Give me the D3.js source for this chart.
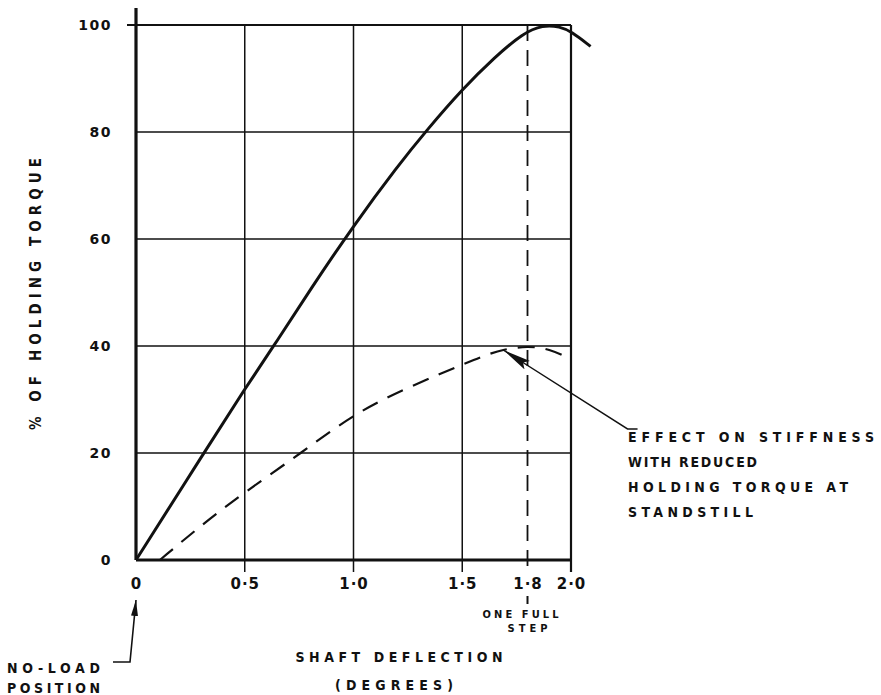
<!DOCTYPE html>
<html>
<head>
<meta charset="utf-8">
<script src="https://cdn.jsdelivr.net/npm/d3@7"></script>
<style>
body { margin: 0; background: #fff; }
text { font-family: "DejaVu Sans Condensed", "DejaVu Sans", sans-serif; font-weight: bold; fill: #111; }
</style>
</head>
<body>
<div id="chart"></div>
<script>
// axis ticks
const xTicks = [0, 0.5, 1.0, 1.5, 1.8, 2.0];
const xTickLabels = ["0", "0·5", "1·0", "1·5", "1·8", "2·0"];
const yTicks = [0, 20, 40, 60, 80, 100];
const gridX = [0.5, 1.0, 1.5, 2.0];
const gridY = [20, 40, 60, 80, 100];

// full holding torque (solid)
const fullDeflection = [0, 0.32, 0.5, 0.65, 0.8, 1.0, 1.2, 1.34, 1.5, 1.65, 1.78, 1.87, 1.95, 2.0, 2.09];
const fullTorque     = [0, 20.5, 32, 41, 50.5, 62.5, 73.5, 80.5, 88, 94, 98.5, 100, 99.7, 98.8, 96];

// reduced holding torque at standstill (dashed)
const reducedDeflection = [0.11, 0.3, 0.5, 0.76, 1.0, 1.25, 1.5, 1.6, 1.69, 1.8, 1.9, 2.0];
const reducedTorque     = [0, 6.5, 12.7, 20, 27.3, 32.3, 36.5, 38.2, 39.4, 40, 39.5, 37.5];

const stepAngle = 1.8;
const noteLines = ["EFFECT ON STIFFNESS", "WITH REDUCED", "HOLDING TORQUE AT", "STANDSTILL"];
const noteWidths = [246, 129, 220, 125];

const W = 881, H = 695;
const svg = d3.select("#chart").append("svg").attr("width", W).attr("height", H);

const x = d3.scaleLinear().domain([0, 2]).range([136, 571]);
const y = d3.scaleLinear().domain([0, 100]).range([560, 25]);

const defs = svg.append("defs");
defs.append("marker").attr("id", "bigHead")
    .attr("markerUnits", "userSpaceOnUse")
    .attr("markerWidth", 30).attr("markerHeight", 12)
    .attr("refX", 28).attr("refY", 5).attr("orient", "auto")
    .append("path").attr("d", "M0,0 L28,5 L0,10 L5,5 Z").attr("fill", "#111");
defs.append("marker").attr("id", "smallHead")
    .attr("markerUnits", "userSpaceOnUse")
    .attr("markerWidth", 18).attr("markerHeight", 8)
    .attr("refX", 16).attr("refY", 3.5).attr("orient", "auto")
    .append("path").attr("d", "M0,0 L16,3.5 L0,7 Z").attr("fill", "#111");

// grid lines
svg.selectAll(".gy").data(gridY).enter().append("line")
    .attr("x1", d => d === 100 ? x(0) - 9 : x(0)).attr("x2", x(2))
    .attr("y1", d => y(d)).attr("y2", d => y(d))
    .attr("stroke", "#111").attr("stroke-width", d => d === 100 ? 2.2 : 1.5);

svg.selectAll(".gx").data(gridX).enter().append("line")
    .attr("x1", d => x(d)).attr("x2", d => x(d))
    .attr("y1", y(100)).attr("y2", y(0) + 12)
    .attr("stroke", "#111").attr("stroke-width", d => d === 2 ? 2.2 : 1.5);

// axes
svg.append("line").attr("x1", x(0)).attr("x2", x(0)).attr("y1", 8).attr("y2", y(0))
    .attr("stroke", "#111").attr("stroke-width", 3.2);
svg.append("line").attr("x1", x(0)).attr("x2", x(2)).attr("y1", y(0)).attr("y2", y(0))
    .attr("stroke", "#111").attr("stroke-width", 3.2);

// one full step line
svg.append("line").attr("x1", x(stepAngle)).attr("x2", x(stepAngle))
    .attr("y1", y(100)).attr("y2", y(0) + 10)
    .attr("stroke", "#111").attr("stroke-width", 1.8).attr("stroke-dasharray", "16,9");

// tick labels
const xAxis = d3.axisBottom(x).tickValues(xTicks).tickSize(0)
    .tickFormat((d, i) => xTickLabels[i]);
const gx = svg.append("g").attr("transform", `translate(0,${y(0) + 15})`).call(xAxis);
gx.select(".domain").remove();
gx.selectAll("text").attr("dy", "0.71em").style("font-size", "15px").style("font-weight", "bold")
    .style("font-family", "DejaVu Sans").style("letter-spacing", "1px").attr("fill", "#111");

const yAxis = d3.axisLeft(y).tickValues(yTicks).tickSize(0).tickFormat(d3.format("d"));
const gyAx = svg.append("g").attr("transform", `translate(${x(0) - 21},0)`).call(yAxis);
gyAx.select(".domain").remove();
gyAx.selectAll("text").style("font-size", "14px").style("font-weight", "bold")
    .style("letter-spacing", "1.5px").style("font-family", "DejaVu Sans").attr("fill", "#111");

// curves
const line = d3.line().x(d => x(d[0])).y(d => y(d[1])).curve(d3.curveBasis);
svg.append("path")
    .datum(fullDeflection.map((d, i) => [d, fullTorque[i]]))
    .attr("d", line).attr("fill", "none").attr("stroke", "#111").attr("stroke-width", 3);
svg.append("path")
    .datum(reducedDeflection.map((d, i) => [d, reducedTorque[i]]))
    .attr("d", line).attr("fill", "none").attr("stroke", "#111").attr("stroke-width", 2.2)
    .attr("stroke-dasharray", "17,11");

// annotation on reduced torque curve
svg.append("polyline")
    .attr("points", `${x(2.26) + 10},${y(24.5)} ${x(2.26)},${y(24.5)} ${x(1.69)},${y(39.4) + 1}`)
    .attr("fill", "none").attr("stroke", "#111").attr("stroke-width", 1.4)
    .attr("marker-end", "url(#bigHead)");
svg.selectAll(".note").data(noteLines).enter().append("text")
    .attr("x", 628).attr("y", (d, i) => 442 + i * 25)
    .attr("textLength", (d, i) => noteWidths[i]).attr("lengthAdjust", "spacing")
    .style("font-size", "14px").text(d => d);

// one full step
svg.append("line").attr("x1", x(stepAngle)).attr("x2", x(stepAngle)).attr("y1", 596).attr("y2", 604)
    .attr("stroke", "#111").attr("stroke-width", 2);
svg.append("text").attr("x", x(stepAngle) - 7).attr("y", 618).attr("text-anchor", "middle")
    .attr("textLength", 76).attr("lengthAdjust", "spacing").style("font-size", "11px").text("ONE FULL");
svg.append("text").attr("x", x(stepAngle)).attr("y", 632).attr("text-anchor", "middle")
    .attr("textLength", 40).attr("lengthAdjust", "spacing").style("font-size", "11px").text("STEP");

// axis titles
svg.append("text").attr("x", 399).attr("y", 662).attr("text-anchor", "middle")
    .attr("textLength", 207).attr("lengthAdjust", "spacing").style("font-size", "14px")
    .text("SHAFT DEFLECTION");
svg.append("text").attr("x", 394).attr("y", 690).attr("text-anchor", "middle")
    .attr("textLength", 118).attr("lengthAdjust", "spacing").style("font-size", "14px")
    .text("(DEGREES)");
svg.append("text").attr("transform", "translate(41,294) rotate(-90)").attr("text-anchor", "middle")
    .attr("textLength", 272).attr("lengthAdjust", "spacing")
    .style("font-size", "15px").text("% OF HOLDING TORQUE");

// no-load position
svg.append("polyline")
    .attr("points", `113,662 130,662 ${x(0)},600`)
    .attr("fill", "none").attr("stroke", "#111").attr("stroke-width", 1.6)
    .attr("marker-end", "url(#smallHead)");
svg.append("text").attr("x", 7).attr("y", 673).attr("textLength", 93).attr("lengthAdjust", "spacing")
    .style("font-size", "14px").text("NO-LOAD");
svg.append("text").attr("x", 7).attr("y", 693).attr("textLength", 93).attr("lengthAdjust", "spacing")
    .style("font-size", "14px").text("POSITION");
</script>
</body>
</html>
